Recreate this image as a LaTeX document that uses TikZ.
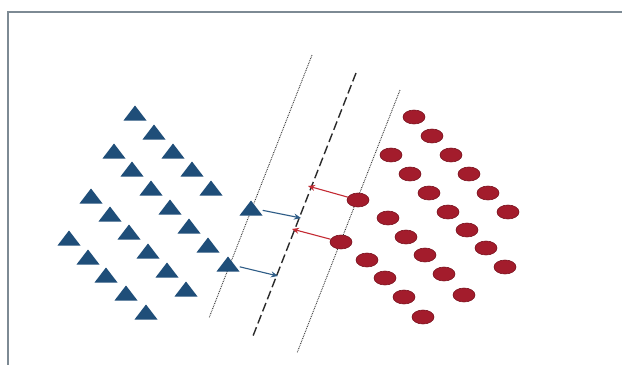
\documentclass[tikz,border=0pt]{standalone}
\usetikzlibrary{shapes.geometric,arrows.meta}
\definecolor{triblue}{HTML}{1F4E79}
\definecolor{dotred}{HTML}{A31C2C}
\definecolor{dotedge}{HTML}{7A1420}
\definecolor{arrblue}{HTML}{2F5D87}
\definecolor{arrred}{HTML}{C42A33}
\definecolor{framec}{HTML}{7D8A94}
\definecolor{linec}{HTML}{2A2A2A}
\tikzset{
  tri/.style={rectangle, minimum width=23pt, minimum height=15pt, inner sep=0pt,
    path picture={\fill[triblue] (path picture bounding box.south west) -- (path picture bounding box.south east) -- (path picture bounding box.north) -- cycle;}},
  dot/.style={ellipse, minimum width=22pt, minimum height=14pt, inner sep=0pt, fill=dotred, draw=dotedge, line width=0.6pt},
  margin/.style={linec, dash pattern=on 0.8pt off 1pt, line width=0.9pt},
  hyper/.style={linec, dash pattern=on 9pt off 4pt, line width=1.4pt},
  barrow/.style={arrblue, line width=1.1pt, -{Stealth[length=7pt,width=6pt]}},
  rarrow/.style={arrred, line width=1.1pt, -{Stealth[length=7pt,width=6pt]}},
}
\begin{document}
\begin{tikzpicture}[x=1pt,y=-1pt]
\useasboundingbox (0,0) rectangle (622,365);
\fill[white] (0,0) rectangle (622,365);
\draw[framec, line width=1.6pt] (622,12) -- (8,12) -- (8,365);
% lines
\coordinate (m1a) at (312,55); \coordinate (m1b) at (209,318);
\coordinate (ha) at (356,73);  \coordinate (hb) at (253,336);
\coordinate (m2a) at (400,90); \coordinate (m2b) at (297,353);
\draw[margin] (m1a) -- (m1b);
\draw[hyper] (ha) -- (hb);
\draw[margin] (m2a) -- (m2b);
% triangles
\foreach \x/\y [count=\i] in {135/113,154/132,173/151,192/169,211/188,
  114/151,132/169,151/188,170/207,189/226,208/245,
  91/196,110/214,129/232,148/251,167/270,186/289,
  69/238,88/257,106/275,126/293,146/312}
  \node[tri] (t\i) at (\x,\y) {};
\node[tri] (sv1) at (251,208) {};
\node[tri] (sv2) at (228,264) {};
% circles
\foreach \x/\y [count=\i] in {414/117,432/136,451/155,469/174,488/193,508/212,
  391/155,410/174,429/193,448/212,467/230,486/248,505/267,
  388/218,406/237,425/255,444/274,464/295,
  367/260,385/278,404/297,423/317}
  \node[dot] (c\i) at (\x,\y) {};
\node[dot] (r1) at (358,200) {};
\node[dot] (r2) at (341,242) {};
% arrows
\coordinate (be1) at (301,218);
\coordinate (be2) at (278,276);
\coordinate (re1) at (308,186);
\coordinate (re2) at (292,229);
\draw[barrow] (sv1) -- (be1);
\draw[barrow] (sv2) -- (be2);
\draw[rarrow] (r1) -- (re1);
\draw[rarrow] (r2) -- (re2);
\end{tikzpicture}
\end{document}
